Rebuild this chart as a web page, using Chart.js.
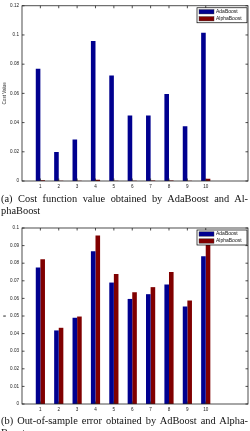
<!DOCTYPE html>
<html>
<head>
<meta charset="utf-8">
<script src="https://cdn.jsdelivr.net/npm/chart.js@4/dist/chart.umd.min.js"></script>
<style>
  html, body { margin: 0; padding: 0; background: #fff; }
  body { width: 250px; height: 431px; overflow: hidden; position: relative; }
  .box { position: absolute; left: 0; width: 250px; height: 195px; }
  .cap { position: absolute; left: 1px; width: 247px; font-family: "Liberation Serif", "DejaVu Serif", serif;
         font-size: 10.4px; line-height: 11.5px; color: #111; }
  .cap span { display: block; }
  .cap .j { text-align: justify; text-align-last: justify; }
</style>
</head>
<body>
<div class="box" style="top:0"><canvas id="costChart"></canvas></div>
<div class="cap" style="top:193px"><span class="j">(a) Cost function value obtained by AdaBoost and Al-</span><span>phaBoost</span></div>
<div class="box" style="top:222px"><canvas id="errChart"></canvas></div>
<div class="cap" style="top:415px"><span class="j">(b) Out-of-sample error obtained by AdBoost and Alpha-</span><span>Boost</span></div>
<script>
// values
const runs = [1, 2, 3, 4, 5, 6, 7, 8, 9, 10];
const costAda = [0.0768, 0.0198, 0.0284, 0.0959, 0.0723, 0.0448, 0.0448, 0.0595, 0.0375, 0.1016];
const costAlpha = [0.0005, 0.0002, 0.0002, 0.0009, 0.0002, 0.0002, 0.0003, 0.0003, 0.0002, 0.0016];
const errAda = [0.0775, 0.0418, 0.0490, 0.0868, 0.0690, 0.0597, 0.0624, 0.0679, 0.0554, 0.0839];
const errAlpha = [0.0822, 0.0433, 0.0497, 0.0957, 0.0739, 0.0635, 0.0664, 0.0750, 0.0588, 0.0930];
const costTicks = [0, 0.02, 0.04, 0.06, 0.08, 0.1, 0.12];
const errTicks = [0, 0.01, 0.02, 0.03, 0.04, 0.05, 0.06, 0.07, 0.08, 0.09, 0.1];

const BLUE = '#00008f';
const RED = '#800000';
const tickFont = { family: 'Liberation Sans, Arial, sans-serif', size: 4.6 };

// matlab style box, inward ticks and legend inside the axes
const matlabAxes = {
    id: 'matlabAxes',
    afterDatasetsDraw(chart) {
        const { ctx, chartArea: a, scales } = chart;
        ctx.save();
        ctx.strokeStyle = '#222';
        ctx.lineWidth = 0.8;
        ctx.strokeRect(a.left, a.top, a.right - a.left, a.bottom - a.top);
        ctx.beginPath();
        scales.x.ticks.forEach(t => {
            const px = scales.x.getPixelForValue(t.value);
            ctx.moveTo(px, a.bottom); ctx.lineTo(px, a.bottom - 2.5);
            ctx.moveTo(px, a.top); ctx.lineTo(px, a.top + 2.5);
        });
        scales.y.ticks.forEach(t => {
            const py = scales.y.getPixelForValue(t.value);
            ctx.moveTo(a.left, py); ctx.lineTo(a.left + 2.5, py);
            ctx.moveTo(a.right, py); ctx.lineTo(a.right - 2.5, py);
        });
        ctx.stroke();

        // legend
        const lw = 50, lh = 15;
        const lx = a.right - lw - 1, ly = a.top + 2;
        ctx.fillStyle = '#fff';
        ctx.fillRect(lx, ly, lw, lh);
        ctx.strokeStyle = '#000';
        ctx.lineWidth = 0.7;
        ctx.strokeRect(lx, ly, lw, lh);
        ctx.font = '5px Liberation Sans, Arial, sans-serif';
        ctx.textBaseline = 'middle';
        chart.data.datasets.forEach((ds, i) => {
            const rowY = ly + 4 + i * 7;
            ctx.fillStyle = ds.backgroundColor;
            ctx.fillRect(lx + 2, rowY - 2.2, 15, 4.4);
            ctx.strokeStyle = '#333';
            ctx.lineWidth = 0.4;
            ctx.strokeRect(lx + 2, rowY - 2.2, 15, 4.4);
            ctx.fillStyle = '#111';
            ctx.fillText(ds.label, lx + 19, rowY);
        });
        ctx.restore();
    }
};

function makeChart(id, ada, alpha, yMax, yTicks, yTitle, padTop, xHeight) {
    const ctx = document.getElementById(id);
    return new Chart(ctx, {
        type: 'bar',
        data: {
            datasets: [
                { label: 'AdaBoost', data: runs.map((r, i) => ({ x: r, y: ada[i] })), backgroundColor: BLUE },
                { label: 'AlphaBoost', data: runs.map((r, i) => ({ x: r, y: alpha[i] })), backgroundColor: RED }
            ]
        },
        options: {
            responsive: true,
            maintainAspectRatio: false,
            animation: false,
            categoryPercentage: 0.5,
            barPercentage: 1.0,
            layout: { padding: { top: padTop, right: 2, left: 2, bottom: 0 } },
            plugins: { legend: { display: false }, tooltip: { enabled: false } },
            scales: {
                x: {
                    type: 'linear',
                    min: 0,
                    max: 12.3,
                    offset: false,
                    grid: { display: false, drawTicks: false },
                    border: { display: false },
                    afterBuildTicks: s => { s.ticks = runs.map(v => ({ value: v })); },
                    afterFit: s => { s.height = xHeight; },
                    ticks: { font: tickFont, color: '#222', padding: 3, maxRotation: 0, autoSkip: false }
                },
                y: {
                    min: 0,
                    max: yMax,
                    grid: { display: false, drawTicks: false },
                    border: { display: false },
                    afterBuildTicks: s => { s.ticks = yTicks.map(v => ({ value: v })); },
                    afterFit: s => { s.width = 20; },
                    ticks: { font: tickFont, color: '#222', padding: 3, callback: v => String(+v.toFixed(2)) },
                    title: { display: true, text: yTitle, font: tickFont, color: '#222', padding: 0 }
                }
            }
        },
        plugins: [matlabAxes]
    });
}

makeChart('costChart', costAda, costAlpha, 0.12, costTicks, 'Cost Value', 5, 14);
makeChart('errChart', errAda, errAlpha, 0.1, errTicks, 'e', 6, 13);
</script>
</body>
</html>
